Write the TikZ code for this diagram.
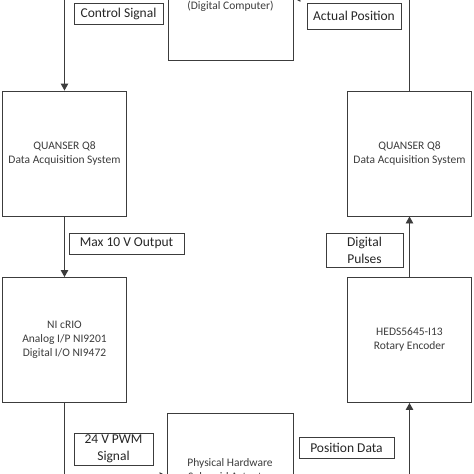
\documentclass[tikz,border=0pt]{standalone}
\usepackage{fontspec}
\setmainfont{Carlito}
\usetikzlibrary{arrows.meta}
\definecolor{ink}{HTML}{3C3C3C}
\tikzset{
    block/.style={draw=ink, line width=0.9pt, minimum width=124pt, minimum height=125pt,
        align=center, text=ink, font=\fontsize{11.5}{14}\selectfont},
    caption/.style={align=center, text=ink, inner sep=0pt, font=\fontsize{11.5}{14}\selectfont},
    tag/.style={draw=ink, line width=0.9pt, fill=white, align=center, inner sep=0pt,
        text=black!85, font=\fontsize{13.5}{17}\selectfont},
    flow/.style={draw=ink, line width=0.9pt, -{Triangle[length=7pt,width=7.5pt]}}
}
\begin{document}
\begin{tikzpicture}[x=1pt,y=-1pt]

    \useasboundingbox (0,0) rectangle (474,474);
    \clip (0,0) rectangle (474,474);

    % Blocks
    \node[block, minimum width=125pt, minimum height=124pt] (comp) at (230.5,-2) {};
    \node[caption] (compLbl) at (230.5,6) {(Digital Computer)};
    \node[block] (q8L) at (64.5,153.5) {QUANSER Q8\\Data Acquisition System};
    \node[block] (q8R) at (409.5,153.5) {QUANSER Q8\\Data Acquisition System};
    \node[block] (crio) at (64.5,340) {NI cRIO\\Analog I/P NI9201\\Digital I/O NI9472};
    \node[block] (enc) at (409.5,340) {HEDS5645-I13\\Rotary Encoder};
    \node[block, minimum width=126pt, minimum height=126pt] (hw) at (230,476) {};
    \node[caption] (hwLbl) at (230,470) {Physical Hardware\\Solenoid Actuator};

    % Links
    \draw[flow] (comp.west) -| (q8L.north);
    \draw[flow] (q8R.north) |- (comp.east);
    \draw[flow] (q8L) -- (crio);
    \draw[flow] (crio.south) |- (hw.west);
    \draw[flow] (hw.east) -| (enc.south);
    \draw[flow] (enc) -- (q8R);

    % Signal tags
    \node[tag, minimum width=89pt, minimum height=21pt] (ctrl) at (118.5,13.5) {Control Signal};
    \node[tag, minimum width=94pt, minimum height=26pt] (actPos) at (354,16) {Actual Position};
    \node[tag, minimum width=115pt, minimum height=21pt] (maxOut) at (126.5,243.5) {Max 10 V Output};
    \node[tag, minimum width=77pt, minimum height=34pt] (pulses) at (364.5,250) {Digital\\Pulses};
    \node[tag, minimum width=79pt, minimum height=32pt] (pwm) at (113.5,449) {24 V PWM\\Signal};
    \node[tag, minimum width=95pt, minimum height=21pt] (posData) at (346.5,447.5) {Position Data};

\end{tikzpicture}
\end{document}
